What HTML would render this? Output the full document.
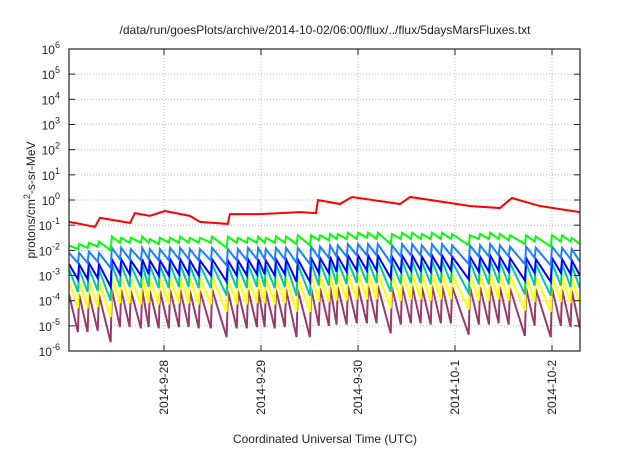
<!DOCTYPE html>
<html><head><meta charset="utf-8"><style>
body{margin:0;background:#fff}
svg text{font-family:"Liberation Sans",sans-serif;fill:#222}
</style></head><body>
<svg id="chart" width="640" height="448" viewBox="0 0 640 448" xmlns="http://www.w3.org/2000/svg">
<text x="325" y="34" font-size="12" text-anchor="middle">/data/run/goesPlots/archive/2014-10-02/06:00/flux/../flux/5daysMarsFluxes.txt</text>
<g id="grid"></g>
<g id="series" clip-path="url(#clip)"></g>
<defs><clipPath id="clip"><rect x="69" y="49" width="511" height="302"/></clipPath></defs>
<rect x="69" y="49" width="511" height="302" fill="none" stroke="#222" stroke-width="1.2"/>
<g id="axes"></g>
<text transform="translate(35,200) rotate(-90)" font-size="12" text-anchor="middle">protons/cm<tspan dy="-5" font-size="9">2</tspan><tspan dy="5">-s-sr-MeV</tspan></text>
<text x="325" y="443" font-size="12" text-anchor="middle">Coordinated Universal Time (UTC)</text>
</svg>
<script>
const dayLabels=["2014-9-28","2014-9-29","2014-9-30","2014-10-1","2014-10-2"];
const dayHours=[24,48,72,96,120];
const yExps=[-6,-5,-4,-3,-2,-1,0,1,2,3,4,5,6];
const toothHours=[0.5,3.0,5.4,7.9,11.1,13.4,15.8,18.6,20.5,23.0,25.5,28.0,30.4,32.9,35.9,39.8,42.3,44.8,47.3,49.2,51.7,54.2,57.1,60.4,62.6,65.1,67.0,69.5,72.0,74.5,76.9,80.4,82.9,85.4,87.8,90.3,92.8,95.3,99.7,102.2,104.7,107.1,109.6,113.6,116.0,120.0,122.5,124.9];
const endHour=126.9;
const greenP=[-1.8,-1.75,-1.7,-1.65,-1.45,-1.5,-1.5,-1.45,-1.55,-1.5,-1.5,-1.45,-1.5,-1.5,-1.45,-1.45,-1.5,-1.5,-1.45,-1.5,-1.45,-1.45,-1.4,-1.4,-1.4,-1.35,-1.35,-1.3,-1.3,-1.3,-1.3,-1.35,-1.3,-1.3,-1.35,-1.3,-1.3,-1.35,-1.4,-1.35,-1.3,-1.35,-1.4,-1.4,-1.45,-1.4,-1.4,-1.5];
const greenD=[-1.95,-1.9,-1.85,-2.0,-1.7,-1.7,-1.7,-1.7,-1.75,-1.7,-1.7,-1.7,-1.7,-1.7,-1.9,-1.7,-1.7,-1.7,-1.7,-1.7,-1.7,-1.75,-1.8,-1.6,-1.6,-1.55,-1.55,-1.55,-1.5,-1.55,-1.75,-1.55,-1.55,-1.55,-1.55,-1.55,-1.55,-1.8,-1.55,-1.55,-1.55,-1.6,-1.75,-1.65,-1.85,-1.65,-1.65,-1.75];
const lbP=[-2.1,-2.1,-2.05,-2.1,-1.9,-1.9,-1.95,-1.9,-1.95,-1.95,-1.9,-1.9,-1.95,-1.95,-1.9,-1.95,-1.95,-1.9,-1.9,-1.95,-1.9,-1.9,-1.9,-1.85,-1.85,-1.8,-1.8,-1.75,-1.75,-1.75,-1.75,-1.8,-1.75,-1.75,-1.8,-1.75,-1.75,-1.8,-1.8,-1.8,-1.75,-1.8,-1.85,-1.85,-1.9,-1.85,-1.9,-1.95];
const lbD=[-2.5,-2.5,-2.45,-2.7,-2.35,-2.35,-2.4,-2.35,-2.4,-2.4,-2.35,-2.35,-2.4,-2.4,-2.6,-2.4,-2.4,-2.35,-2.35,-2.4,-2.35,-2.5,-2.55,-2.3,-2.3,-2.25,-2.25,-2.2,-2.2,-2.2,-2.5,-2.25,-2.2,-2.2,-2.25,-2.2,-2.2,-2.55,-2.25,-2.25,-2.2,-2.25,-2.55,-2.3,-2.6,-2.3,-2.35,-2.45];
const blueP=[-2.55,-2.55,-2.5,-2.55,-2.35,-2.35,-2.4,-2.35,-2.4,-2.4,-2.35,-2.35,-2.4,-2.4,-2.35,-2.4,-2.4,-2.35,-2.35,-2.4,-2.35,-2.35,-2.35,-2.3,-2.3,-2.25,-2.25,-2.2,-2.2,-2.2,-2.2,-2.25,-2.2,-2.2,-2.25,-2.2,-2.2,-2.25,-2.25,-2.25,-2.2,-2.25,-2.3,-2.3,-2.35,-2.3,-2.35,-2.4];
const blueD=[-3.15,-3.15,-3.1,-3.45,-2.95,-2.95,-3.0,-2.95,-3.0,-3.0,-2.95,-2.95,-3.0,-3.0,-3.25,-3.0,-3.0,-2.95,-2.95,-3.0,-2.95,-3.25,-3.25,-2.9,-2.9,-2.85,-2.85,-2.8,-2.8,-2.8,-3.1,-2.85,-2.8,-2.8,-2.85,-2.8,-2.8,-3.15,-2.85,-2.85,-2.8,-2.85,-3.2,-2.9,-3.25,-2.9,-2.95,-3.0];
const tealP=[-2.75,-2.75,-2.7,-2.75,-2.55,-2.55,-2.6,-2.55,-2.6,-2.6,-2.55,-2.55,-2.6,-2.6,-2.55,-2.6,-2.6,-2.55,-2.55,-2.6,-2.55,-2.55,-2.55,-2.5,-2.5,-2.45,-2.45,-2.4,-2.4,-2.4,-2.4,-2.45,-2.4,-2.4,-2.45,-2.4,-2.4,-2.45,-2.45,-2.45,-2.4,-2.45,-2.5,-2.5,-2.55,-2.5,-2.55,-2.6];
const tealD=[-3.65,-3.65,-3.6,-4.0,-3.45,-3.45,-3.5,-3.45,-3.5,-3.5,-3.45,-3.45,-3.5,-3.5,-3.8,-3.5,-3.5,-3.45,-3.45,-3.5,-3.45,-3.8,-3.8,-3.4,-3.4,-3.35,-3.35,-3.3,-3.3,-3.3,-3.65,-3.35,-3.3,-3.3,-3.35,-3.3,-3.3,-3.7,-3.35,-3.35,-3.3,-3.35,-3.75,-3.4,-3.8,-3.4,-3.45,-3.5];
const yellowP=[-3.25,-3.25,-3.2,-3.25,-3.05,-3.05,-3.1,-3.05,-3.1,-3.1,-3.05,-3.05,-3.1,-3.1,-3.05,-3.1,-3.1,-3.05,-3.05,-3.1,-3.05,-3.05,-3.05,-3.0,-3.0,-2.95,-2.95,-2.9,-2.9,-2.9,-2.9,-2.95,-2.9,-2.9,-2.95,-2.9,-2.9,-2.95,-2.95,-2.95,-2.9,-2.95,-3.0,-3.0,-3.05,-3.0,-3.05,-3.1];
const yellowD=[-4.3,-4.3,-4.25,-4.65,-4.1,-4.1,-4.15,-4.1,-4.15,-4.15,-4.1,-4.1,-4.15,-4.15,-4.45,-4.15,-4.15,-4.1,-4.1,-4.15,-4.1,-4.45,-4.45,-4.05,-4.05,-4.0,-4.0,-3.95,-3.95,-3.95,-4.3,-4.0,-3.95,-3.95,-4.0,-3.95,-3.95,-4.35,-4.0,-4.0,-3.95,-4.0,-4.4,-4.05,-4.45,-4.05,-4.1,-4.15];
const purpleP=[-3.75,-3.75,-3.7,-3.75,-3.55,-3.55,-3.6,-3.55,-3.6,-3.6,-3.55,-3.55,-3.6,-3.6,-3.55,-3.6,-3.6,-3.55,-3.55,-3.6,-3.55,-3.55,-3.55,-3.5,-3.5,-3.45,-3.45,-3.4,-3.4,-3.4,-3.4,-3.45,-3.4,-3.4,-3.45,-3.4,-3.4,-3.45,-3.45,-3.45,-3.4,-3.45,-3.5,-3.5,-3.55,-3.5,-3.55,-3.6];
const purpleD=[-5.25,-5.25,-5.2,-5.65,-5.05,-5.05,-5.1,-5.05,-5.1,-5.1,-5.05,-5.05,-5.1,-5.1,-5.45,-5.1,-5.1,-5.05,-5.05,-5.1,-5.05,-5.45,-5.45,-5.0,-5.0,-4.95,-4.95,-4.9,-4.9,-4.9,-5.3,-4.95,-4.9,-4.9,-4.95,-4.9,-4.9,-5.35,-4.95,-4.95,-4.9,-4.95,-5.4,-5.0,-5.45,-5.0,-5.05,-5.1];
const redHours=[0.5,3.2,6.9,8.2,15.6,16.8,20.5,24.2,30.4,32.9,39.8,40.3,47.7,57.6,61.6,62.1,67.5,70.5,82.4,84.9,94.8,99.7,107.1,110.1,117.0,126.9];
const redLog=[-0.87,-0.95,-1.07,-0.71,-0.91,-0.52,-0.63,-0.44,-0.63,-0.87,-0.95,-0.56,-0.56,-0.48,-0.52,0,-0.16,0.12,-0.16,0.12,-0.12,-0.24,-0.32,0.08,-0.24,-0.48];

const NS="http://www.w3.org/2000/svg";
const X0=69,X1=580,Y0=49,Y1=351;
function xs(h){return 67+h/24*97;}
function ys(l){return 200-l*(Y1-Y0)/12;}
function mk(tag,attrs,parent){const e=document.createElementNS(NS,tag);for(const k in attrs)e.setAttribute(k,attrs[k]);parent.appendChild(e);return e;}
const grid=document.getElementById('grid'),axes=document.getElementById('axes'),ser=document.getElementById('series');
yExps.forEach(e=>{
  const y=ys(e);
  if(e>-6&&e<6){const g=mk('line',{x1:X0,x2:X1,y1:y,y2:y,stroke:'#aaa','stroke-width':0.8,'stroke-dasharray':'1,2'},grid);
  
  }
  const t=mk('line',{x1:X0,x2:X0+6,y1:y,y2:y,stroke:'#222'},axes);
  
  
  const t2=mk('line',{x1:X1,x2:X1-6,y1:y,y2:y,stroke:'#222'},axes);
  
  
  const lab=mk('text',{x:60,y:y+5,'font-size':12,'text-anchor':'end'},axes);
  
  
  lab.innerHTML='10<tspan dy="-6" font-size="9">'+e+'</tspan>';
});
dayHours.forEach((h,i)=>{
  const x=xs(h);
  const g=mk('line',{x1:x,x2:x,y1:Y0,y2:Y1,stroke:'#aaa','stroke-width':0.8,'stroke-dasharray':'1,2'},grid);
  
  
  const t=mk('line',{x1:x,x2:x,y1:Y1,y2:Y1-6,stroke:'#222'},axes);
  
  
  const t2=mk('line',{x1:x,x2:x,y1:Y0,y2:Y0+6,stroke:'#222'},axes);
  
  
  const lab=mk('text',{transform:'translate('+(x+4)+',360) rotate(-90)','font-size':12,'text-anchor':'end'},axes);
  
  
  lab.textContent=dayLabels[i];
});
function tooth(P,D){
  const pts=[];
  for(let i=0;i<toothHours.length;i++){
    const next=i+1<toothHours.length?toothHours[i+1]-0.3:endHour;
    pts.push(xs(toothHours[i])+','+ys(P[i]));
    pts.push(xs(next)+','+ys(D[i]));
  }
  return pts.join(' ');
}
const list=[[purpleP,purpleD,'#9a3a6a','series-purple'],[yellowP,yellowD,'#ffff00','series-yellow'],[tealP,tealD,'#00c8a0','series-teal'],[blueP,blueD,'#0000ff','series-blue'],[lbP,lbD,'#1a80ff','series-lightblue'],[greenP,greenD,'#00ff00','series-green']];
list.forEach(s=>{
  const p=mk('polyline',{points:tooth(s[0],s[1]),fill:'none',stroke:s[2],'stroke-width':2,'stroke-linejoin':'miter'},ser);
  
  
});
const rp=mk('polyline',{points:redHours.map((h,i)=>xs(h)+','+ys(redLog[i])).join(' '),fill:'none',stroke:'#ff0000','stroke-width':2},ser);


</script>
</body></html>
